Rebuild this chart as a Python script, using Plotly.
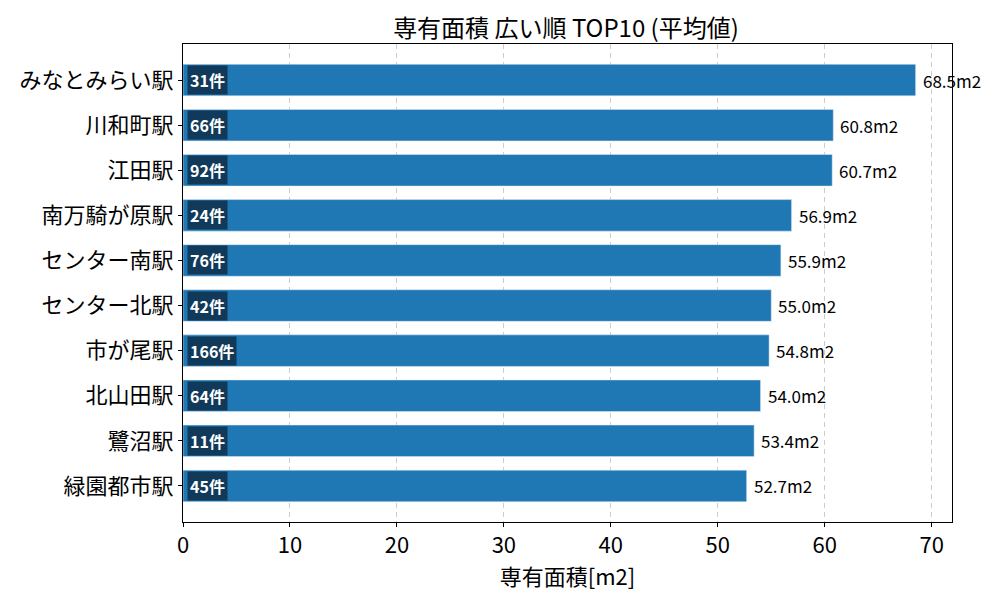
import plotly.graph_objects as go

# データ
stations = ["みなとみらい駅", "川和町駅", "江田駅", "南万騎が原駅", "センター南駅",
            "センター北駅", "市が尾駅", "北山田駅", "鷺沼駅", "緑園都市駅"]
areas = [68.5, 60.8, 60.7, 56.9, 55.9, 55.0, 54.8, 54.0, 53.4, 52.7]
counts = [31, 66, 92, 24, 76, 42, 166, 64, 11, 45]

font_jp = '"Noto Sans CJK JP", "Noto Sans", sans-serif'
bar_color = '#1f77b4'

fig = go.Figure()

fig.add_trace(go.Bar(
    x=areas,
    y=stations,
    orientation='h',
    marker_color=bar_color,
    width=0.7,
    hoverinfo='skip'
))

# 値ラベル
for s, a in zip(stations, areas):
    fig.add_annotation(
        x=a, y=s, xref='x', yref='y',
        text=f"{a:.1f}m2",
        showarrow=False,
        xanchor='left',
        xshift=5,
        font=dict(family=font_jp, size=17, color='black')
    )

# 件数バッジ
for s, c in zip(stations, counts):
    fig.add_annotation(
        x=0.35, y=s, xref='x', yref='y',
        text=f"<b>{c}件</b>",
        showarrow=False,
        xanchor='left',
        font=dict(family=font_jp, size=16, color='white'),
        bgcolor='rgb(17,58,90)',
        borderpad=2
    )

fig.update_layout(
    width=1000,
    height=600,
    margin=dict(l=170, r=56, t=36, b=86),
    paper_bgcolor='white',
    plot_bgcolor='white',
    showlegend=False,
    title=dict(
        text="専有面積 広い順 TOP10 (平均値)",
        font=dict(family=font_jp, size=24, color='black'),
        x=0.558, xanchor='center',
        y=0.966, yanchor='middle'
    ),
    xaxis=dict(
        range=[0, 71.9],
        dtick=10,
        showgrid=True,
        gridcolor='rgba(0,0,0,0.2)',
        griddash='5px,4px',
        gridwidth=1,
        zeroline=False,
        showline=True,
        linecolor='black',
        linewidth=1,
        mirror=True,
        ticks='outside',
        ticklen=4,
        tickcolor='black',
        tickfont=dict(family=font_jp, size=22, color='black'),
        title=dict(text="専有面積[m2]", font=dict(family=font_jp, size=22, color='black'), standoff=2)
    ),
    yaxis=dict(
        autorange=False,
        range=[9.8, -0.8],
        showgrid=False,
        zeroline=False,
        showline=True,
        linecolor='black',
        linewidth=1,
        mirror=True,
        ticks='outside',
        ticklen=4,
        tickcolor='black',
        tickfont=dict(family=font_jp, size=22, color='black')
    )
)

fig.write_html("out.html")
